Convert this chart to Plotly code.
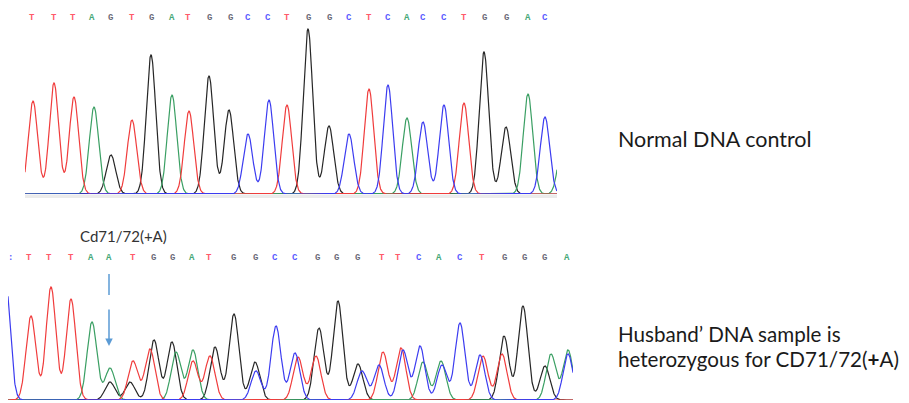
import numpy as np
import plotly.graph_objects as go

# ---------------- DATA ----------------
# Top panel: normal DNA control (called bases and peak positions)
top_bases = list("TTTAGTGATGGCCTGGCTCACCTGGAC")
top_base_x = [32, 54, 73, 92, 110, 132, 151, 172, 188, 209, 230, 248, 268, 287,
              308, 329, 349, 369, 388, 407, 423, 444, 464, 484, 506, 528, 545]
# peaks: position, channel, height
top_peak_x = [33, 54, 74, 94, 111, 132, 151, 172, 189, 209, 229, 248, 269, 287,
              308, 329, 349, 369, 388, 407, 423, 444, 464, 484, 506, 528, 545, 563]
top_peak_ch = list("TTTAGTGATGGCCTGGCTCACCTGGACA")
top_peak_h = [93, 111, 97, 87, 39, 74, 139, 99, 83, 118, 84, 60, 94, 89,
              165, 68, 60, 105, 109, 76, 72, 89, 91, 142, 67, 100, 77, 55]

# Bottom panel: husband's sample (heterozygous)
bot_bases = [":"] + list("TTTAATGGATGGCCGGGTTCACTGGGA")
bot_base_x = [10, 29, 49, 71, 91, 109, 133, 153, 172, 192, 209, 233, 255, 275,
              295, 317, 336, 357, 382, 398, 419, 439, 460, 482, 504, 524, 544, 567]
bot_C_x = [5, 256, 276, 295, 362, 379, 403, 420, 442, 460, 480, 568]
bot_C_h = [125, 29, 74, 47, 29, 35, 50, 54, 35, 77, 45, 46]
bot_T_x = [31, 51, 71, 133, 150, 193, 210, 298, 316, 383, 401, 483, 502]
bot_T_h = [84, 113, 101, 39, 51, 39, 44, 43, 44, 48, 52, 44, 46]
bot_A_x = [92, 110, 176, 193, 423, 441, 551, 568]
bot_A_h = [78, 32, 48, 50, 38, 39, 46, 50]
bot_G_x = [110, 130, 154, 172, 215, 234, 255, 319, 338, 358, 504, 523, 545]
bot_G_h = [18, 18, 60, 58, 53, 86, 38, 72, 99, 36, 64, 94, 34]

side_top = "Normal DNA control"
side_bot1 = "Husband\u2019 DNA sample is"
side_bot2 = "heterozygous for CD71/72(<b>+</b>A)"
mut_label = "Cd71/72(+A)"
mut_x = 109

# ---------------- STYLE ----------------
W, H = 909, 403
line_col = {"T": "#f03c3c", "A": "#3a9f63", "G": "#262626", "C": "#3c3cf0"}
txt_col = {"T": "#ff5a6a", "A": "#48a878", "G": "#6a6a78", "C": "#5a5aff", ":": "#5a5aff"}
draw_order = ["G", "A", "T", "C"]

top_x0, top_x1, top_base = 25, 557, 194
bot_x0, bot_x1, bot_base, bot_top = 8, 573, 400, 210
SIG_TOP, SIG_BOT = 4.7, 4.9


def trace_curve(grid, xs, hs, sig):
    y = np.zeros_like(grid)
    for c, h in zip(xs, hs):
        y += h * np.exp(-((grid - c) ** 2) / (2 * sig ** 2))
    return y


fig = go.Figure()

# top traces
g_top = np.arange(top_x0, top_x1 + 0.01, 0.25)
for ch in draw_order:
    xs = [x for x, c in zip(top_peak_x, top_peak_ch) if c == ch]
    hs = [h for h, c in zip(top_peak_h, top_peak_ch) if c == ch]
    fig.add_trace(go.Scatter(x=g_top, y=trace_curve(g_top, xs, hs, SIG_TOP),
                             mode="lines", line=dict(color=line_col[ch], width=1.2),
                             xaxis="x", yaxis="y", hoverinfo="skip", showlegend=False))

# bottom traces
g_bot = np.arange(bot_x0, bot_x1 + 0.01, 0.25)
bot_sets = {"C": (bot_C_x, bot_C_h), "T": (bot_T_x, bot_T_h),
            "A": (bot_A_x, bot_A_h), "G": (bot_G_x, bot_G_h)}
for ch in draw_order:
    xs, hs = bot_sets[ch]
    fig.add_trace(go.Scatter(x=g_bot, y=trace_curve(g_bot, xs, hs, SIG_BOT),
                             mode="lines", line=dict(color=line_col[ch], width=1.2),
                             xaxis="x2", yaxis="y2", hoverinfo="skip", showlegend=False))

annotations = []
letter_font = "Liberation Mono"
for b, x in zip(top_bases, top_base_x):
    annotations.append(dict(x=x, y=top_base - 18, xref="x", yref="y", text="<b>" + b + "</b>",
                            showarrow=False, font=dict(family=letter_font, size=9, color=txt_col[b])))
for b, x in zip(bot_bases, bot_base_x):
    annotations.append(dict(x=x, y=bot_base - 258, xref="x2", yref="y2", text="<b>" + b + "</b>",
                            showarrow=False, font=dict(family=letter_font, size=9, color=txt_col[b])))

annotations.append(dict(x=123, y=bot_base - 236, xref="x2", yref="y2", text=mut_label,
                        showarrow=False, font=dict(family="Lato", size=15, color="#333333")))
# arrow (lower segment)
annotations.append(dict(x=mut_x, y=bot_base - 346, ax=mut_x, ay=bot_base - 308,
                        xref="x2", yref="y2", axref="x2", ayref="y2", text="",
                        showarrow=True, arrowhead=2, arrowsize=1, arrowwidth=1.5,
                        arrowcolor="#5b9bd5"))

annotations.append(dict(x=616 / W, y=1 - 139 / H, xref="paper", yref="paper", text=side_top,
                        showarrow=False, xanchor="left", yanchor="middle",
                        font=dict(family="Lato", size=21.5, color="#1a1a1a")))
side_font = dict(family="Lato", size=20.6, color="#1a1a1a")
annotations.append(dict(x=616 / W, y=1 - 334 / H, xref="paper", yref="paper", text=side_bot1,
                        showarrow=False, xanchor="left", yanchor="middle", font=side_font))
annotations.append(dict(x=616 / W, y=1 - 359 / H, xref="paper", yref="paper", text=side_bot2,
                        showarrow=False, xanchor="left", yanchor="middle", font=side_font))

shapes = [
    # light grey strip under top baseline
    dict(type="rect", xref="x", yref="paper", x0=top_x0, x1=top_x1,
         y0=1 - 198 / H, y1=1 - 194.5 / H, fillcolor="#ebebeb", line=dict(width=0), layer="below"),
    # arrow upper segment
    dict(type="line", xref="x2", yref="y2", x0=mut_x, x1=mut_x,
         y0=bot_base - 274, y1=bot_base - 295, line=dict(color="#5b9bd5", width=1.5)),
]

ax_common = dict(visible=False, showgrid=False, zeroline=False, fixedrange=True)
fig.update_layout(
    width=W, height=H, margin=dict(l=0, r=0, t=0, b=0),
    paper_bgcolor="white", plot_bgcolor="rgba(0,0,0,0)",
    xaxis=dict(domain=[top_x0 / W, top_x1 / W], range=[top_x0, top_x1], **ax_common),
    yaxis=dict(domain=[1 - top_base / H, 1], range=[0, top_base], **ax_common),
    xaxis2=dict(domain=[bot_x0 / W, bot_x1 / W], range=[bot_x0, bot_x1], **ax_common),
    yaxis2=dict(domain=[1 - bot_base / H, 1 - bot_top / H], range=[0, bot_base - bot_top], **ax_common),
    annotations=annotations, shapes=shapes, showlegend=False,
)

fig.write_html("out.html", config={"displayModeBar": False},
               post_script="document.body.style.margin='0';")
